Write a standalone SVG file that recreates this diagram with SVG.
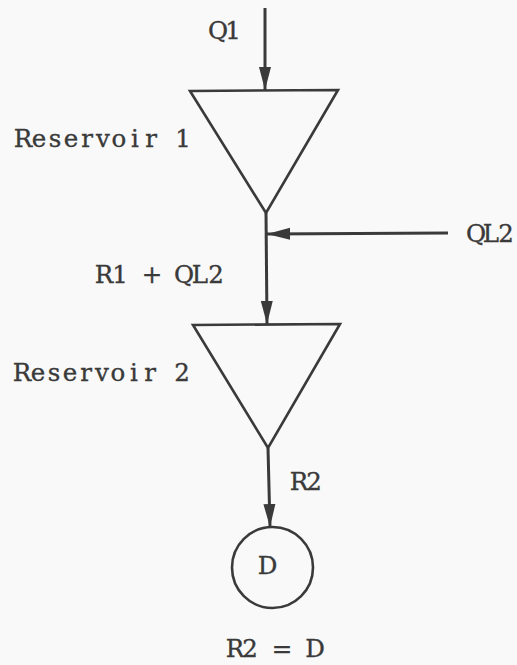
<svg xmlns="http://www.w3.org/2000/svg" width="517" height="665" viewBox="0 0 517 665">
  <style>
    .edge { stroke: #3a3a3a; stroke-width: 3; fill: none; }
    .shape { stroke: #3a3a3a; stroke-width: 2.6; fill: none; stroke-linejoin: miter; }
    /* typewriter-style labels: one glyph per fixed 16px cell, centred */
    .lbl { font-family: "DejaVu Serif", "Liberation Serif", serif; font-size: 24.5px; fill: #3a3a3a; stroke: #3a3a3a; stroke-width: 0.35; text-anchor: middle; }
  </style>
  <defs>
    <marker id="head" markerUnits="userSpaceOnUse" markerWidth="24" markerHeight="14" viewBox="0 0 24 14" refX="23" refY="7" orient="auto">
      <path d="M0,1 L23,7 L0,13 Z" fill="#3a3a3a"/>
    </marker>
  </defs>
  <rect width="517" height="665" fill="#f9f9f9"/>

  <g id="connectors">
    <line class="edge" x1="265" y1="8" x2="265" y2="90" marker-end="url(#head)"/>
    <line class="edge" x1="266" y1="213" x2="267" y2="324" marker-end="url(#head)"/>
    <line class="edge" x1="448" y1="233" x2="267" y2="234" marker-end="url(#head)"/>
    <line class="edge" x1="268" y1="448" x2="270" y2="527" marker-end="url(#head)"/>
  </g>

  <g id="reservoir1">
    <path class="shape" d="M190,91 L338,90 L266,213 Z"/>
  </g>
  <g id="reservoir2">
    <path class="shape" d="M193,325 L340,324 L268,448 Z"/>
  </g>
  <g id="demand">
    <circle class="shape" cx="272.5" cy="567.5" r="40.5"/>
    <text class="lbl" x="267.5" y="574">D</text>
  </g>

  <g id="labels">
    <text class="lbl" x="218 233" y="39">Q1</text>
    <text class="lbl" x="23 39 55 71 87 103 119 135 151 167 183" y="147">Reservoir 1</text>
    <text class="lbl" x="104 120 136 152 168 184 200 216" y="283">R1 + QL2</text>
    <text class="lbl" x="476 491 506" y="242">QL2</text>
    <text class="lbl" x="22 38 54 70 86 102 118 134 150 166 182" y="381">Reservoir 2</text>
    <text class="lbl" x="299 314" y="490">R2</text>
    <text class="lbl" x="235 250 266 282 298 315" y="657">R2 = D</text>
  </g>
</svg>
